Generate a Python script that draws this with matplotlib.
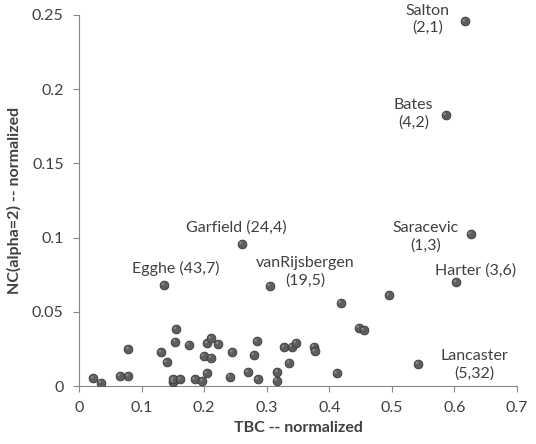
import matplotlib
matplotlib.use("Agg")
import matplotlib.pyplot as plt
from matplotlib.path import Path
import numpy as np

# unlabeled points
tbc = [0.023, 0.035, 0.0655, 0.079, 0.079, 0.131, 0.140, 0.155, 0.154, 0.150,
       0.151, 0.162, 0.175, 0.185, 0.197, 0.204, 0.199, 0.205, 0.211, 0.211,
       0.2225, 0.245, 0.241, 0.270, 0.2796, 0.284, 0.286, 0.316, 0.317, 0.3275,
       0.336, 0.340, 0.3466, 0.3754, 0.3765, 0.4116, 0.418, 0.4957, 0.4468, 0.4548]
nc = [0.0052, 0.0022, 0.0067, 0.0067, 0.0249, 0.0227, 0.0160, 0.0384, 0.0299, 0.0029,
      0.0045, 0.0045, 0.0278, 0.0045, 0.0034, 0.0086, 0.0204, 0.0288, 0.0321, 0.0191,
      0.0283, 0.0227, 0.0063, 0.0094, 0.0209, 0.0301, 0.0045, 0.0036, 0.0094, 0.0260,
      0.0157, 0.0265, 0.0290, 0.0265, 0.0234, 0.0086, 0.0561, 0.0611, 0.0393, 0.0377]

# labeled points
names = ["Salton\n(2,1)", "Bates\n(4,2)", "Saracevic\n(1,3)", "Harter (3,6)",
         "Lancaster\n(5,32)", "Garfield (24,4)", "Egghe (43,7)", "vanRijsbergen\n(19,5)"]
name_tbc = [0.6166, 0.5858, 0.6257, 0.6028, 0.542, 0.260, 0.136, 0.305]
name_nc = [0.2457, 0.1826, 0.1024, 0.0699, 0.0148, 0.0957, 0.068, 0.0674]
label_offsets = [(-37, 2), (-32, 1), (-45, -3), (19, 12), (56, -1), (-5, 16), (12, 17), (35, 14)]

x_ticks = [0, 0.1, 0.2, 0.3, 0.4, 0.5, 0.6, 0.7]
y_ticks = [0, 0.05, 0.1, 0.15, 0.2, 0.25]
x_ticklabels = ["0", "0.1", "0.2", "0.3", "0.4", "0.5", "0.6", "0.7"]
y_ticklabels = ["0", "0.05", "0.1", "0.15", "0.2", "0.25"]

plt.rcParams['font.family'] = ['Lato', 'DejaVu Sans']
text_color = "#404040"
spine_color = "#888888"
fs = 11.5

fig = plt.figure(figsize=(5.36, 4.44), dpi=100)
ax = fig.add_axes([79/536, 58/444, (517-79)/536, (386-15)/444])

all_x = tbc + name_tbc
all_y = nc + name_nc
ax.scatter(all_x, all_y, s=40, color="#5e5e5e", edgecolors="#3a3a3a", linewidths=0.6, zorder=3)

# small off-centre highlight (upper-left) to imitate the shaded spheres
t = np.linspace(0, 2*np.pi, 40)
circ = np.column_stack([np.cos(t) * 0.3 - 0.25, np.sin(t) * 0.3 + 0.25])
verts = np.vstack([[[0.0, 1.0]], circ])
codes = [Path.MOVETO, Path.MOVETO] + [Path.LINETO] * (len(circ) - 2) + [Path.CLOSEPOLY]
hl = Path(verts, codes)
ax.scatter(all_x, all_y, s=40, marker=hl, color="#8a8a8a", edgecolors="none", zorder=4)

for nm, x, y, off in zip(names, name_tbc, name_nc, label_offsets):
    ax.annotate(nm, (x, y), xytext=off, textcoords="offset pixels",
                ha="center", va="center", fontsize=fs, color=text_color,
                linespacing=1.25)

ax.set_xlim(0, 0.7)
ax.set_ylim(0, 0.25)
ax.set_xticks(x_ticks)
ax.set_xticklabels(x_ticklabels)
ax.set_yticks(y_ticks)
ax.set_yticklabels(y_ticklabels)
ax.tick_params(axis="both", colors=spine_color, labelcolor=text_color, labelsize=fs,
               length=4, width=0.8, direction="out", pad=7)
for s in ["top", "right"]:
    ax.spines[s].set_visible(False)
for s in ["left", "bottom"]:
    ax.spines[s].set_color(spine_color)
    ax.spines[s].set_linewidth(0.8)

ax.set_xlabel("TBC -- normalized", fontsize=fs, fontweight="bold", color=text_color, labelpad=4)
ax.set_ylabel("NC(alpha=2) -- normalized", fontsize=fs, fontweight="bold", color=text_color, labelpad=7)

fig.savefig("out.png", dpi=100)
